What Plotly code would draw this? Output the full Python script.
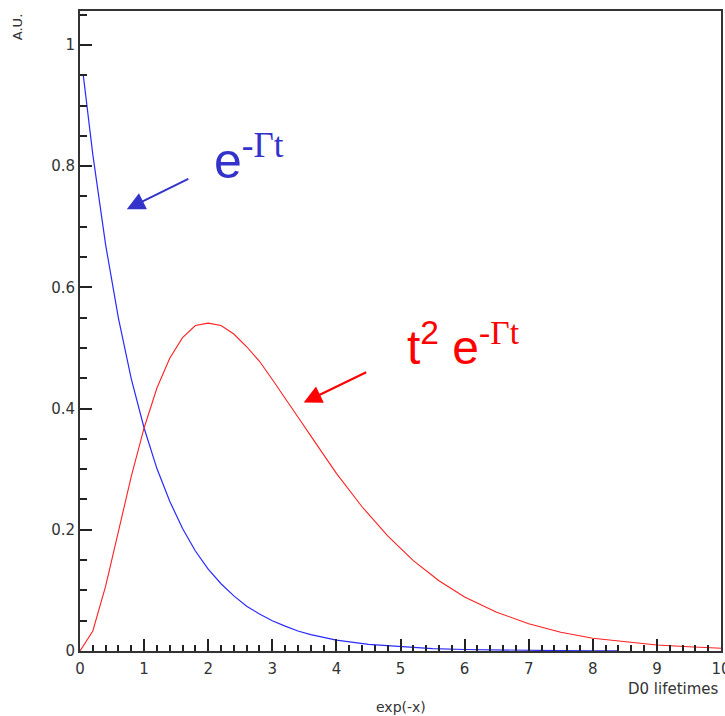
import plotly.graph_objects as go

# Values
blue_x = [0.05, 0.2, 0.4, 0.6, 0.8, 1.0, 1.2, 1.4, 1.6, 1.8, 2.0, 2.2, 2.4, 2.6, 2.8, 3.0,
          3.2, 3.4, 3.6, 3.8, 4.0, 4.5, 5.0, 5.5, 6.0, 6.5, 7.0, 7.5, 8.0, 8.4]
blue_y = [0.951, 0.819, 0.670, 0.549, 0.449, 0.368, 0.301, 0.247, 0.202, 0.165, 0.135, 0.111,
          0.091, 0.074, 0.061, 0.050, 0.041, 0.033, 0.027, 0.022, 0.018, 0.011, 0.007, 0.004,
          0.0025, 0.0015, 0.0009, 0.0006, 0.0003, 0.0002]

red_x = [0.0, 0.2, 0.4, 0.6, 0.8, 1.0, 1.2, 1.4, 1.6, 1.8, 2.0, 2.2, 2.4, 2.6, 2.8, 3.0,
         3.2, 3.4, 3.6, 3.8, 4.0, 4.4, 4.8, 5.2, 5.6, 6.0, 6.5, 7.0, 7.5, 8.0, 8.5, 9.0, 9.5, 10.0]
red_y = [0.0, 0.033, 0.107, 0.198, 0.288, 0.368, 0.434, 0.483, 0.517, 0.537, 0.541, 0.537,
         0.523, 0.502, 0.478, 0.448, 0.418, 0.386, 0.355, 0.323, 0.293, 0.238, 0.190, 0.149,
         0.116, 0.089, 0.064, 0.045, 0.031, 0.021, 0.015, 0.010, 0.007, 0.0045]

x_ticks = [0, 1, 2, 3, 4, 5, 6, 7, 8, 9, 10]
y_ticks = [0, 0.2, 0.4, 0.6, 0.8, 1]
y_tick_labels = ["0", "0.2", "0.4", "0.6", "0.8", "1"]

fig = go.Figure()
fig.add_trace(go.Scatter(x=blue_x, y=blue_y, mode="lines",
                         line=dict(color="#2a2aff", width=1.2), showlegend=False))
fig.add_trace(go.Scatter(x=red_x, y=red_y, mode="lines",
                         line=dict(color="#ff2020", width=1.1), showlegend=False))

tickfont = dict(family="DejaVu Sans, Liberation Sans, sans-serif", size=15, color="#333333")

fig.update_xaxes(range=[0, 10], tickvals=x_ticks, ticktext=[str(v) for v in x_ticks],
                 ticks="inside", ticklen=12, tickwidth=1.5, tickcolor="#222",
                 minor=dict(dtick=0.2, tick0=0, ticks="inside", ticklen=6, tickwidth=1.5, tickcolor="#222"),
                 showline=True, linecolor="#333", linewidth=2, mirror=True,
                 showgrid=False, zeroline=False, tickfont=tickfont, automargin=False,
                 ticklabeloverflow="allow", ticklabelstandoff=3)
fig.update_yaxes(range=[0, 1.056], tickvals=y_ticks, ticktext=y_tick_labels,
                 ticks="inside", ticklen=12, tickwidth=1.5, tickcolor="#222",
                 minor=dict(dtick=0.05, tick0=0, ticks="inside", ticklen=7, tickwidth=1.5, tickcolor="#222"),
                 showline=True, linecolor="#333", linewidth=2, mirror=True,
                 showgrid=False, zeroline=False, tickfont=tickfont, automargin=False)

serif = "font-family:Liberation Serif, Times New Roman, serif"
annotations = [
    dict(text="D0 lifetimes", xref="paper", yref="paper", x=1.0, y=-0.06,
         xanchor="right", yanchor="middle", showarrow=False,
         font=dict(family="DejaVu Sans, Liberation Sans, sans-serif", size=15, color="#333")),
    dict(text="exp(-x)", xref="paper", yref="paper", x=0.5, y=-0.088,
         xanchor="center", yanchor="middle", showarrow=False,
         font=dict(family="DejaVu Sans, Liberation Sans, sans-serif", size=14, color="#333")),
    dict(text="A.U.", xref="paper", yref="paper", x=-0.098, y=0.975,
         xanchor="center", yanchor="middle", textangle=-90, showarrow=False,
         font=dict(family="DejaVu Sans, Liberation Sans, sans-serif", size=13, color="#333")),
    # blue label and arrow
    dict(text="e<sup><span style='" + serif + "'>-\u0393t</span></sup>", x=2.64, y=0.815,
         xref="x", yref="y", xanchor="center", yanchor="middle", showarrow=False,
         font=dict(family="Liberation Sans, Arial, sans-serif", size=50, color="#3333cc")),
    dict(text="", x=0.73, y=0.729, xref="x", yref="y", ax=63, ay=-31,
         showarrow=True, arrowhead=2, arrowsize=1.8, arrowwidth=2, arrowcolor="#3333cc"),
    # red label and arrow
    dict(text="t<sup>2</sup> e<sup><span style='" + serif + "'>-\u0393t</span></sup>", x=5.98, y=0.507,
         xref="x", yref="y", xanchor="center", yanchor="middle", showarrow=False,
         font=dict(family="Liberation Sans, Arial, sans-serif", size=48, color="#ff0000")),
    dict(text="", x=3.49, y=0.41, xref="x", yref="y", ax=64, ay=-31,
         showarrow=True, arrowhead=2, arrowsize=1.8, arrowwidth=2, arrowcolor="#ff0000"),
]

fig.update_layout(width=725, height=716, margin=dict(l=80, r=4, t=11, b=65),
                  paper_bgcolor="white", plot_bgcolor="white", annotations=annotations)

fig.write_html("out.html", config={"displayModeBar": False},
               post_script="document.body.style.margin='0';document.body.style.padding='0';"
                           "document.documentElement.style.margin='0';")
